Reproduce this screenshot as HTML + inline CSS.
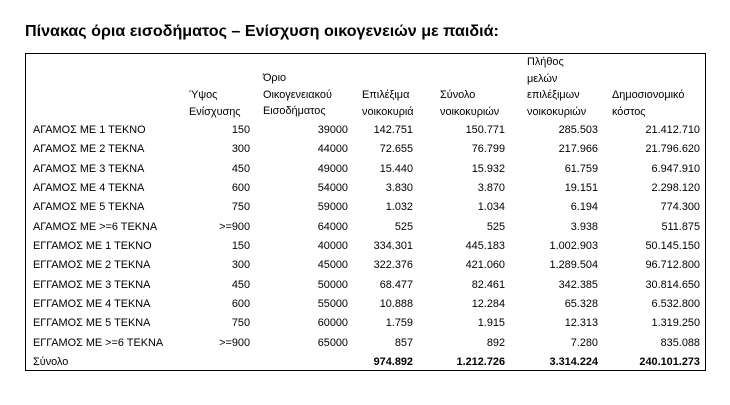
<!DOCTYPE html>
<html><head><meta charset="utf-8"><style>
body{margin:0;width:730px;height:405px;background:#fff;position:relative;overflow:hidden;font-family:"Liberation Sans",sans-serif;color:#000}
.t{position:absolute;left:25px;top:22px;font-size:16.1px;font-weight:bold;white-space:nowrap}
.box{position:absolute;left:25px;top:53px;width:679px;height:316px;border:1.3px solid #000}
.r{position:absolute;left:0;width:730px;height:14px;font-size:10.9px;line-height:14px}
.r span{position:absolute;white-space:nowrap}
.l{left:33px}
.c1{right:480px}.c2{right:382px}.c3{right:317px}.c4{right:225px}.c5{right:132px}.c6{right:30px}
.h{position:absolute;font-size:10.9px;line-height:16.6px;white-space:nowrap}
b{font-weight:bold}
</style></head><body>
<div class="t">Πίνακας όρια εισοδήματος – Ενίσχυση οικογενειών με παιδιά:</div>
<div class="box"></div>
<div class="h" style="left:189px;top:87px">Ύψος<br>Ενίσχυσης</div>
<div class="h" style="left:263px;top:70px">Όριο<br>Οικογενειακού<br>Εισοδήματος</div>
<div class="h" style="left:362px;top:87px">Επιλέξιμα<br>νοικοκυριά</div>
<div class="h" style="left:440px;top:87px">Σύνολο<br>νοικοκυριών</div>
<div class="h" style="left:527px;top:54px">Πλήθος<br>μελών<br>επιλέξιμων<br>νοικοκυριών</div>
<div class="h" style="left:612px;top:87px">Δημοσιονομικό<br>κόστος</div>
<div class="r" style="top:123px"><span class="l">ΑΓΑΜΟΣ ΜΕ 1 ΤΕΚΝΟ</span><span class="c1">150</span><span class="c2">39000</span><span class="c3">142.751</span><span class="c4">150.771</span><span class="c5">285.503</span><span class="c6">21.412.710</span></div>
<div class="r" style="top:142.3px"><span class="l">ΑΓΑΜΟΣ ΜΕ 2 ΤΕΚΝΑ</span><span class="c1">300</span><span class="c2">44000</span><span class="c3">72.655</span><span class="c4">76.799</span><span class="c5">217.966</span><span class="c6">21.796.620</span></div>
<div class="r" style="top:161.7px"><span class="l">ΑΓΑΜΟΣ ΜΕ 3 ΤΕΚΝΑ</span><span class="c1">450</span><span class="c2">49000</span><span class="c3">15.440</span><span class="c4">15.932</span><span class="c5">61.759</span><span class="c6">6.947.910</span></div>
<div class="r" style="top:181px"><span class="l">ΑΓΑΜΟΣ ΜΕ 4 ΤΕΚΝΑ</span><span class="c1">600</span><span class="c2">54000</span><span class="c3">3.830</span><span class="c4">3.870</span><span class="c5">19.151</span><span class="c6">2.298.120</span></div>
<div class="r" style="top:200.3px"><span class="l">ΑΓΑΜΟΣ ΜΕ 5 ΤΕΚΝΑ</span><span class="c1">750</span><span class="c2">59000</span><span class="c3">1.032</span><span class="c4">1.034</span><span class="c5">6.194</span><span class="c6">774.300</span></div>
<div class="r" style="top:219.7px"><span class="l">ΑΓΑΜΟΣ ΜΕ &gt;=6 ΤΕΚΝΑ</span><span class="c1">&gt;=900</span><span class="c2">64000</span><span class="c3">525</span><span class="c4">525</span><span class="c5">3.938</span><span class="c6">511.875</span></div>
<div class="r" style="top:239px"><span class="l">ΕΓΓΑΜΟΣ ΜΕ 1 ΤΕΚΝΟ</span><span class="c1">150</span><span class="c2">40000</span><span class="c3">334.301</span><span class="c4">445.183</span><span class="c5">1.002.903</span><span class="c6">50.145.150</span></div>
<div class="r" style="top:258.3px"><span class="l">ΕΓΓΑΜΟΣ ΜΕ 2 ΤΕΚΝΑ</span><span class="c1">300</span><span class="c2">45000</span><span class="c3">322.376</span><span class="c4">421.060</span><span class="c5">1.289.504</span><span class="c6">96.712.800</span></div>
<div class="r" style="top:277.7px"><span class="l">ΕΓΓΑΜΟΣ ΜΕ 3 ΤΕΚΝΑ</span><span class="c1">450</span><span class="c2">50000</span><span class="c3">68.477</span><span class="c4">82.461</span><span class="c5">342.385</span><span class="c6">30.814.650</span></div>
<div class="r" style="top:297px"><span class="l">ΕΓΓΑΜΟΣ ΜΕ 4 ΤΕΚΝΑ</span><span class="c1">600</span><span class="c2">55000</span><span class="c3">10.888</span><span class="c4">12.284</span><span class="c5">65.328</span><span class="c6">6.532.800</span></div>
<div class="r" style="top:316.3px"><span class="l">ΕΓΓΑΜΟΣ ΜΕ 5 ΤΕΚΝΑ</span><span class="c1">750</span><span class="c2">60000</span><span class="c3">1.759</span><span class="c4">1.915</span><span class="c5">12.313</span><span class="c6">1.319.250</span></div>
<div class="r" style="top:335.7px"><span class="l">ΕΓΓΑΜΟΣ ΜΕ &gt;=6 ΤΕΚΝΑ</span><span class="c1">&gt;=900</span><span class="c2">65000</span><span class="c3">857</span><span class="c4">892</span><span class="c5">7.280</span><span class="c6">835.088</span></div>
<div class="r" style="top:355px"><span class="l">Σύνολο</span><span class="c3"><b>974.892</b></span><span class="c4"><b>1.212.726</b></span><span class="c5"><b>3.314.224</b></span><span class="c6"><b>240.101.273</b></span></div>
</body></html>
